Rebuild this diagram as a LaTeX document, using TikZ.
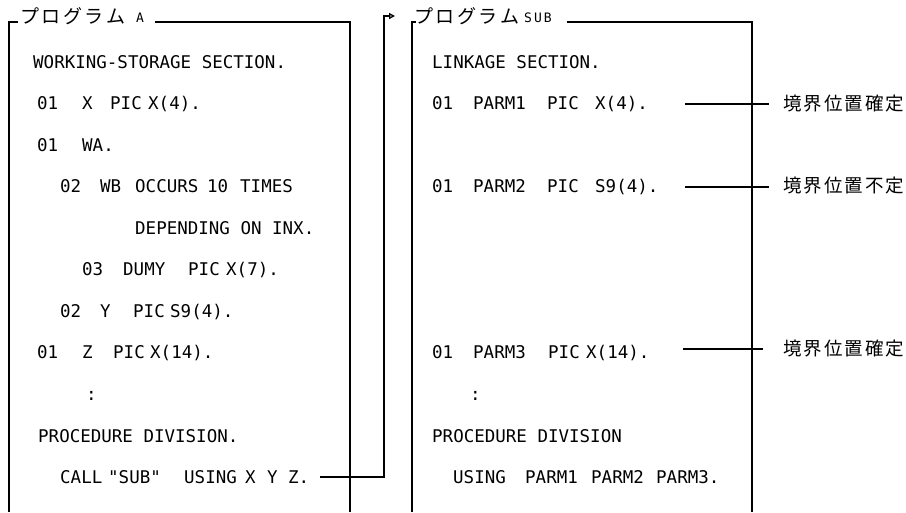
\documentclass[tikz,border=0pt]{standalone}
\usepackage{fontspec}
\newfontfamily\codefont{DejaVu Sans Mono}
\newfontfamily\jpfont{Noto Sans CJK JP}
\usetikzlibrary{arrows.meta,calc}
\newcommand\jk{\kern2.5pt}
\newcommand\lk{\kern2pt}
\begin{document}
\begin{tikzpicture}[x=1pt,y=-1pt,
  code/.style={font=\codefont\fontsize{17.5}{20}\selectfont, inner sep=0pt, anchor=base west},
  small/.style={font=\codefont\fontsize{13}{15}\selectfont, inner sep=0pt, anchor=base west},
  jp/.style={font=\jpfont\fontsize{19}{22}\selectfont, inner sep=0pt, anchor=base west},
  lab/.style={font=\jpfont\fontsize{18.5}{22}\selectfont, inner sep=0pt, anchor=base west},
  frame/.style={line width=1.4pt},
  conn/.style={line width=1.3pt}]
\useasboundingbox (0,0) rectangle (906,512);

% ---- titles ----
\node[jp] (tA) at (20,23) {プ\jk ロ\jk グ\jk ラ\jk ム};
\node[small] (tAa) at (136,22.5) {A};
\node[jp] (tS) at (414,23) {プ\jk ロ\jk グ\jk ラ\jk ム};
\node[small] (tSs) at (524,22.5) {S\kern2pt U\kern2pt B};

% ---- frames ----
\draw[frame] (18,22) -- (9,22) -- (9,512);
\draw[frame] (155,22) -- (350,22) -- (350,512);
\draw[frame] (416,22) -- (412,22) -- (412,512);
\draw[frame] (567,22) -- (752,22) -- (752,512);

% ---- left program text ----
\foreach \x/\y/\t [count=\i] in {
  33/68.5/{WORKING-STORAGE SECTION.},
  37/109.5/{01}, 82/109.5/{X}, 110/109.5/{PIC}, 148/109.5/{X(4).},
  37/151.5/{01}, 82/151.5/{WA.},
  60/192.5/{02}, 100/192.5/{WB}, 135/192.5/{OCCURS}, 207/192.5/{10}, 240/192.5/{TIMES},
  135/234.5/{DEPENDING ON INX.},
  82/275.5/{03}, 123/275.5/{DUMY}, 188/275.5/{PIC}, 226/275.5/{X(7).},
  60/317.5/{02}, 100/317.5/{Y}, 133/317.5/{PIC}, 170/317.5/{S9(4).},
  37/358.5/{01}, 82/358.5/{Z}, 113/358.5/{PIC}, 150/358.5/{X(14).},
  86/400.5/{:},
  38/442.5/{PROCEDURE DIVISION.},
  60/483.5/{CALL}, 108/483.5/{"SUB"}, 184/483.5/{USING}, 245/483.5/{X}, 267/483.5/{Y}}
  \node[code] (a\i) at (\x,\y) {\t};
\node[code] (callz) at (288,483.5) {Z.};

% ---- right program text ----
\foreach \x/\y/\t [count=\i] in {
  432/68.5/{LINKAGE SECTION.},
  432/109.5/{01}, 473/109.5/{PARM1}, 547/109.5/{PIC},
  432/192.5/{01}, 473/192.5/{PARM2}, 547/192.5/{PIC},
  432/358.5/{01}, 473/358.5/{PARM3}, 548/358.5/{PIC},
  470/400.5/{:},
  432/442.5/{PROCEDURE DIVISION},
  453/483.5/{USING}, 525/483.5/{PARM1}, 591/483.5/{PARM2}, 656/483.5/{PARM3.}}
  \node[code] (b\i) at (\x,\y) {\t};
\node[code] (p1x) at (595,109.5) {X(4).};
\node[code] (p2x) at (595,192.5) {S9(4).};
\node[code] (p3x) at (586,358.5) {X(14).};

% ---- labels ----
\node[lab] (l1) at (783,110) {境\lk 界\lk 位\lk 置\lk 確\lk 定};
\node[lab] (l2) at (783,192.5) {境\lk 界\lk 位\lk 置\lk 不\lk 定};
\node[lab] (l3) at (783,355) {境\lk 界\lk 位\lk 置\lk 確\lk 定};

\draw[conn] ([xshift=-98pt,yshift=-1pt]l1.west) -- ([xshift=-14pt,yshift=-1pt]l1.west);
\draw[conn] ([xshift=-98pt,yshift=-1.5pt]l2.west) -- ([xshift=-14pt,yshift=-1.5pt]l2.west);
\draw[conn] ([xshift=-100pt,yshift=-1pt]l3.west) -- ([xshift=-20pt,yshift=-1pt]l3.west);

% ---- call connector ----
\coordinate (bend) at (384,16);
\coordinate (tip) at (395,16);
\draw[conn,-{Triangle[open,length=6pt,width=6pt]}]
  ([xshift=11pt]callz.east) -- (bend |- callz.east) -- (bend) -- (tip);
\end{tikzpicture}
\end{document}
